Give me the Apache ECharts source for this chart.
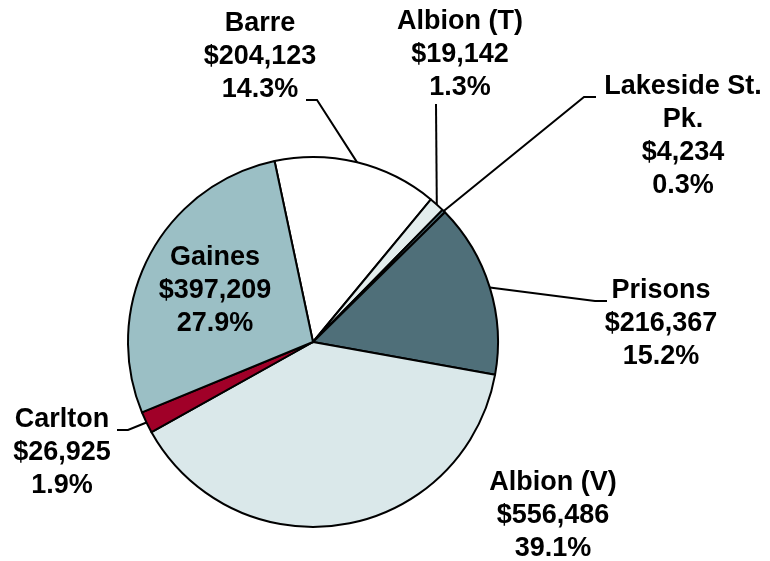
<!DOCTYPE html>
<html>
<head>
<meta charset="utf-8">
<script src="https://cdn.jsdelivr.net/npm/echarts@6/dist/echarts.min.js"></script>
<style>
  html, body { margin: 0; background: #fff; }
  #main { width: 770px; height: 561px; }
</style>
</head>
<body>
<div id="main"></div>
<script>
// slices, clockwise starting from Barre
var names = ['Barre', 'Albion (T)', 'Lakeside St.\nPk.', 'Prisons', 'Albion (V)', 'Carlton', 'Gaines'];
var amounts = [204123, 19142, 4234, 216367, 556486, 26925, 397209];
var colors = ['#ffffff', '#e3eded', '#4f6f79', '#4f6f79', '#dae8ea', '#a00028', '#9bbfc5'];

// centre of each text block
var labelSpots = [[260, 57], [460, 55], [683, 136], [661, 324], [553, 516], [62, 453], [215, 291]];
// bend + end of the leader line (null = no line)
var leaders = [
    [[317, 100], [306, 100]],
    [[436, 104]],
    [[584, 97], [596, 97]],
    [[595, 301], [607, 301]],
    null,
    [[128, 430], [117, 430]],
    null
];

function money(v) {
    return '$' + String(v).replace(/\B(?=(\d{3})+(?!\d))/g, ',');
}

var data = [];
for (var i = 0; i < names.length; i++) {
    data.push({
        name: names[i],
        value: amounts[i],
        itemStyle: { color: colors[i] },
        label: { position: names[i] == 'Gaines' ? 'inside' : 'outside' },
        labelLine: { show: leaders[i] != null }
    });
}

var myChart = echarts.init(document.getElementById('main'));

var option = {
    animation: false,
    series: [
        {
            type: 'pie',
            center: [313, 342],
            radius: 185,
            startAngle: 102,
            clockwise: true,
            percentPrecision: 1,
            avoidLabelOverlap: false,
            minShowLabelAngle: 0,
            itemStyle: {
                borderColor: '#000',
                borderWidth: 2
            },
            emphasis: { disabled: true },
            label: {
                show: true,
                color: '#000',
                fontFamily: 'Liberation Sans, Arial, sans-serif',
                fontWeight: 'bold',
                fontSize: 27,
                lineHeight: 33,
                align: 'center',
                formatter: function (p) {
                    return p.name + '\n' + money(p.value) + '\n' + p.percent.toFixed(1) + '%';
                }
            },
            labelLine: {
                lineStyle: { color: '#000', width: 2 }
            },
            labelLayout: function (p) {
                var k = p.dataIndex;
                var out = {
                    x: labelSpots[k][0],
                    y: labelSpots[k][1],
                    align: 'center',
                    verticalAlign: 'middle'
                };
                if (leaders[k] && p.labelLinePoints) {
                    out.labelLinePoints = [p.labelLinePoints[0]].concat(leaders[k]);
                }
                return out;
            },
            data: data
        }
    ]
};

myChart.setOption(option);
</script>
</body>
</html>
